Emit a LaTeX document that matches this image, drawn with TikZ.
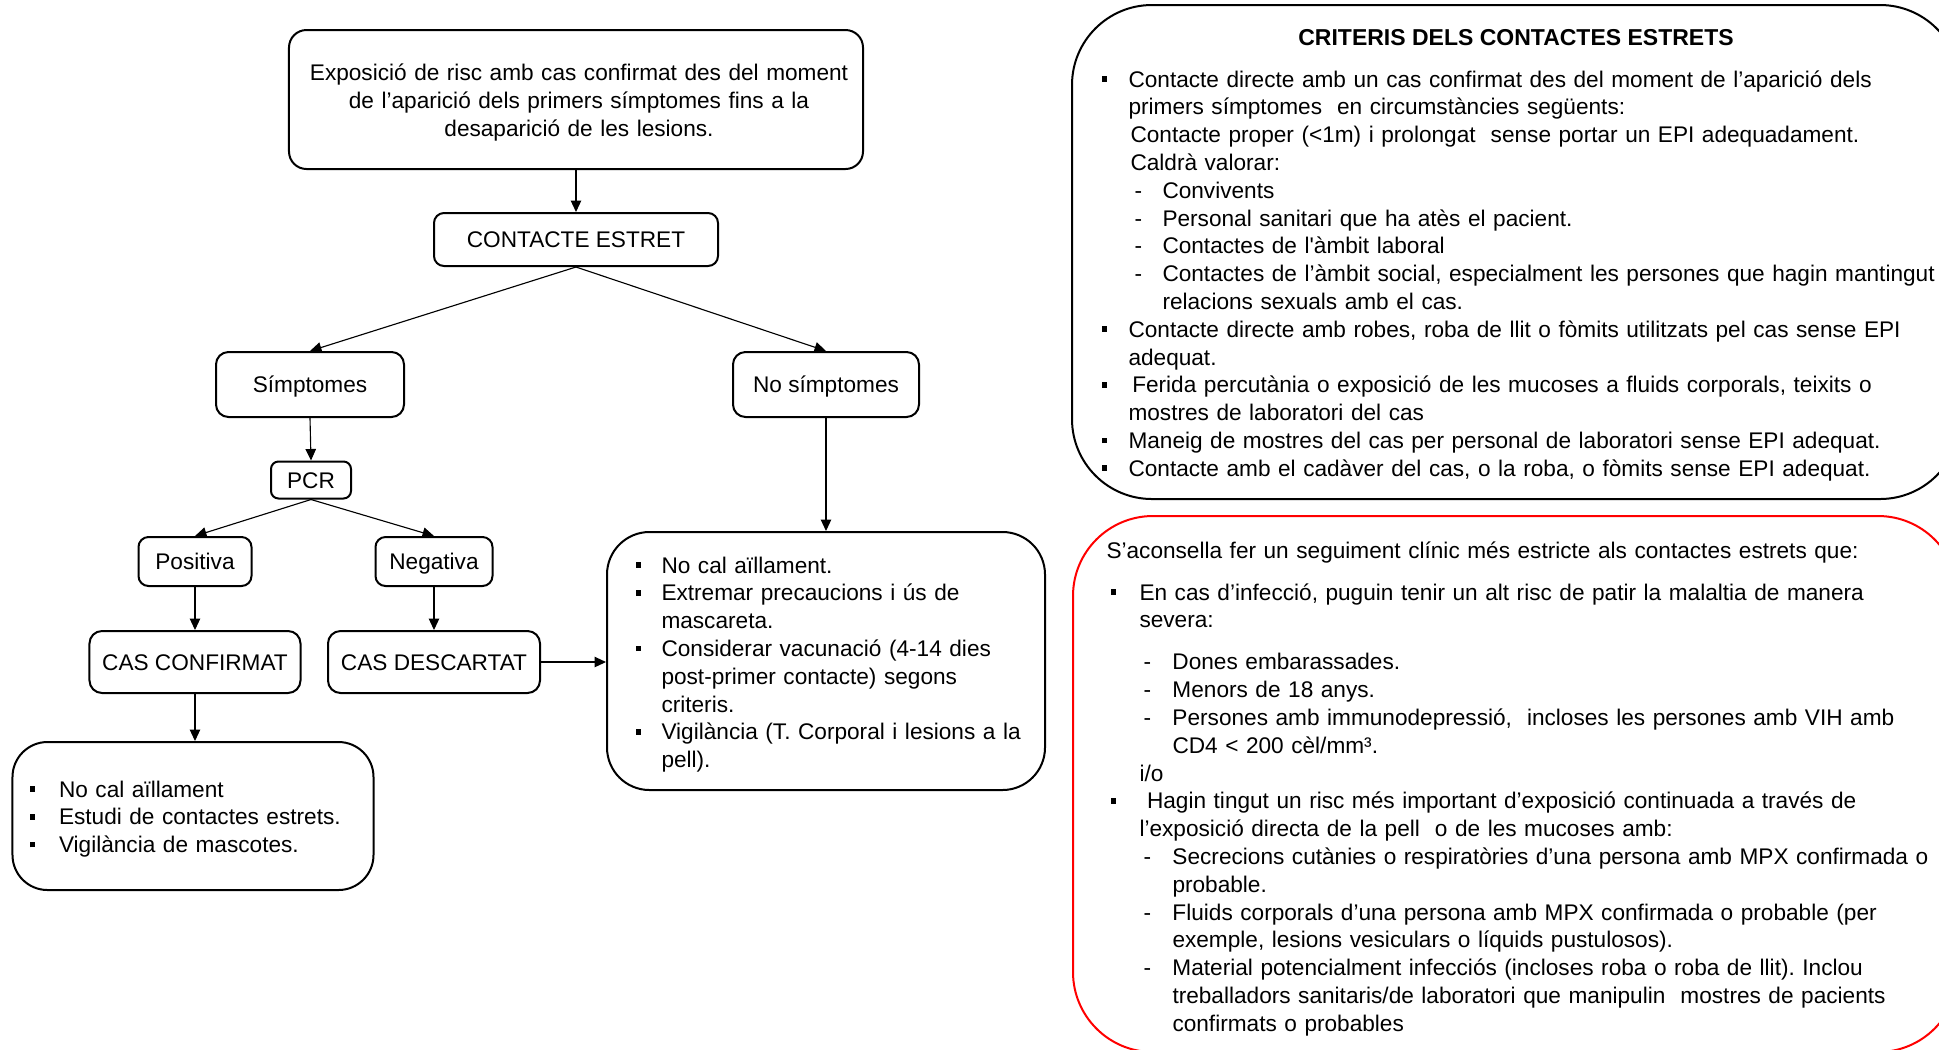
\documentclass[tikz,border=0pt]{standalone}
\usepackage{fontspec}
\setmainfont{Liberation Sans}
\usetikzlibrary{arrows.meta}
\frenchspacing
\newcommand{\sqbul}{\raisebox{2.1pt}{\rule{2.2pt}{2.2pt}}}
\newcommand{\BL}[2]{\makebox[#1][l]{\sqbul}#2}
\newcommand{\DL}[3]{\hspace*{#1}\makebox[#2][l]{-}#3}
\newcommand{\CL}[2]{\hspace*{#1}#2}
\tikzset{
  flowbox/.style={draw, line width=0.8pt, rounded corners=#1, inner sep=0pt, align=center},
  oneline/.style={text height=6.48pt, text depth=0pt},
  conn/.style={line width=0.45pt, -{Triangle[length=4.6pt,width=4.2pt]}},
  listtext/.style={anchor=base west, inner sep=0pt, align=left, text width=380pt}
}
\begin{document}
\frenchspacing
\begin{tikzpicture}[x=0.4pt,y=-0.4pt,font=\fontsize{9.05}{11.12}\selectfont\frenchspacing]
\useasboundingbox (0,0) rectangle (1939,1049);
\clip (0,0) rectangle (1939,1049);
\fill[white] (0,0) rectangle (1939,1049);

% flowchart boxes
\node[flowbox=7pt, minimum width=229.6pt, minimum height=55.6pt] (top) at (576,99.5) {};
\node[anchor=base, inner sep=0pt, align=center, text width=229.6pt] (toptext) at (579,80.5)
  {Exposició de risc amb cas confirmat des del moment\\de l’aparició dels primers símptomes fins a la\\desaparició de les lesions.};
\node[flowbox=4pt, oneline, minimum width=113.6pt, minimum height=21.2pt] (ce) at (576,239.5) {CONTACTE ESTRET};
\node[flowbox=5pt, oneline, minimum width=75.2pt, minimum height=26pt] (sym) at (310,384.5) {Símptomes};
\node[flowbox=5pt, oneline, minimum width=74.4pt, minimum height=26pt] (nosym) at (826,384.5) {No símptomes};
\node[flowbox=3pt, oneline, minimum width=32pt, minimum height=14.8pt] (pcr) at (311,480) {PCR};
\node[flowbox=4pt, oneline, minimum width=45.2pt, minimum height=19.6pt] (pos) at (195,561.5) {Positiva};
\node[flowbox=4pt, oneline, minimum width=46.8pt, minimum height=19.6pt] (neg) at (434,561.5) {Negativa};
\node[flowbox=5pt, oneline, minimum width=84.4pt, minimum height=24.8pt] (conf) at (195,662) {CAS CONFIRMAT};
\node[flowbox=5pt, oneline, minimum width=84.8pt, minimum height=24.8pt] (desc) at (434,662) {CAS DESCARTAT};
\node[flowbox=14pt, minimum width=144.4pt, minimum height=59.2pt] (bl) at (193,816) {};
\node[flowbox=17pt, minimum width=175.2pt, minimum height=103.2pt] (mr) at (826,661) {};
\node[flowbox=32pt, minimum width=355.2pt, minimum height=197.6pt] (crit) at (1516,252) {};
\node[flowbox=32pt, draw=red, minimum width=354pt, minimum height=214.4pt] (adv) at (1515.5,784) {};

% connectors
\draw[conn] (top.south) -- (ce.north);
\draw[conn] (ce.south) -- (sym.north);
\draw[conn] (ce.south) -- (nosym.north);
\draw[conn] (sym.south) -- (pcr.north);
\draw[conn] (pcr.south) -- (pos.north);
\draw[conn] (pcr.south) -- (neg.north);
\draw[conn] (pos.south) -- (conf.north);
\draw[conn] (neg.south) -- (desc.north);
\draw[conn] (conf.south) -- (conf.south |- bl.north);
\draw[conn] (nosym.south) -- (mr.north);
\draw[conn] (desc.east) -- (mr.west |- desc.east);

% list texts
\node[listtext] (bltext) at (29,797) {%
\BL{11.8pt}{No cal aïllament}\\
\BL{11.8pt}{Estudi de contactes estrets.}\\
\BL{11.8pt}{Vigilància de mascotes.}};

\node[listtext] (mrtext) at (635,573) {%
\BL{10.4pt}{No cal aïllament.}\\
\BL{10.4pt}{Extremar precaucions i ús de}\\
\CL{10.4pt}{mascareta.}\\
\BL{10.4pt}{Considerar vacunació (4-14 dies}\\
\CL{10.4pt}{post-primer contacte) segons}\\
\CL{10.4pt}{criteris.}\\
\BL{10.4pt}{Vigilància (T. Corporal i lesions a la}\\
\CL{10.4pt}{pell).}};

\node[anchor=base, inner sep=0pt, font=\fontsize{9.2}{11.12}\selectfont\bfseries] (crittitle) at (1516,45) {CRITERIS DELS CONTACTES ESTRETS};

\node[listtext] (crittext) at (1101,87) {%
\BL{10.8pt}{Contacte directe amb un cas confirmat des del moment de l’aparició dels}\\
\CL{10.8pt}{primers símptomes~ en circumstàncies següents:}\\
\CL{11.6pt}{Contacte proper (<1m) i prolongat~ sense portar un EPI adequadament.}\\
\CL{11.6pt}{Caldrà valorar:}\\
\DL{13.2pt}{11.2pt}{Convivents}\\
\DL{13.2pt}{11.2pt}{Personal sanitari que ha atès el pacient.}\\
\DL{13.2pt}{11.2pt}{Contactes de l\textquotesingle àmbit laboral}\\
\DL{13.2pt}{11.2pt}{Contactes de l’àmbit social, especialment les persones que hagin mantingut}\\
\CL{24.4pt}{relacions sexuals amb el cas.}\\
\BL{10.8pt}{Contacte directe amb robes, roba de llit o fòmits utilitzats pel cas sense EPI}\\
\CL{10.8pt}{adequat.}\\
\BL{10.8pt}{\,Ferida percutània o exposició de les mucoses a fluids corporals, teixits o}\\
\CL{10.8pt}{mostres de laboratori del cas}\\
\BL{10.8pt}{Maneig de mostres del cas per personal de laboratori sense EPI adequat.}\\
\BL{10.8pt}{Contacte amb el cadàver del cas, o la roba, o fòmits sense EPI adequat.}};

\node[listtext] (advtext) at (1106,558) {%
S’aconsella fer un seguiment clínic més estricte als contactes estrets que:\\[5.7pt]
\CL{1.6pt}{\BL{11.6pt}{En cas d’infecció, puguin tenir un alt risc de patir la malaltia de manera}}\\
\CL{13.2pt}{severa:}\\[5.7pt]
\DL{14.8pt}{11.6pt}{Dones embarassades.}\\
\DL{14.8pt}{11.6pt}{Menors de 18 anys.}\\
\DL{14.8pt}{11.6pt}{Persones amb immunodepressió,~ incloses les persones amb VIH amb}\\
\CL{26.4pt}{CD4 < 200 cèl/mm³.}\\
\CL{13.2pt}{i/o}\\
\CL{1.6pt}{\BL{11.6pt}{\ Hagin tingut un risc més important d’exposició continuada a través de}}\\
\CL{13.2pt}{l’exposició directa de la pell~ o de les mucoses amb:}\\
\DL{14.8pt}{11.6pt}{Secrecions cutànies o respiratòries d’una persona amb MPX confirmada o}\\
\CL{26.4pt}{probable.}\\
\DL{14.8pt}{11.6pt}{Fluids corporals d’una persona amb MPX confirmada o probable (per}\\
\CL{26.4pt}{exemple, lesions vesiculars o líquids pustulosos).}\\
\DL{14.8pt}{11.6pt}{Material potencialment infecciós (incloses roba o roba de llit). Inclou}\\
\CL{26.4pt}{treballadors sanitaris/de laboratori que manipulin~ mostres de pacients}\\
\CL{26.4pt}{confirmats o probables}};
\end{tikzpicture}
\end{document}
